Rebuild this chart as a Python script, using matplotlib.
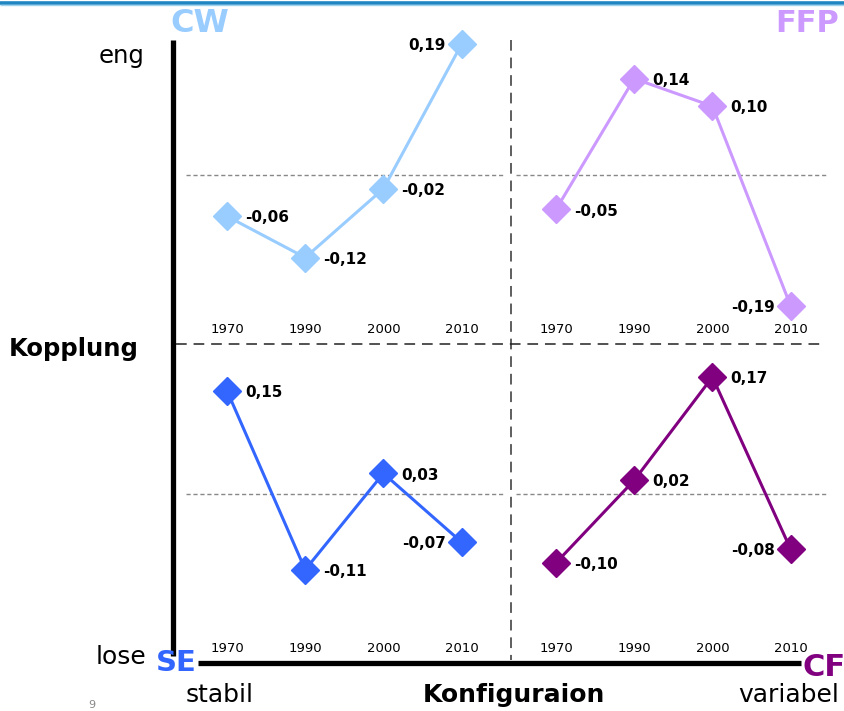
import matplotlib
matplotlib.use("Agg")
import matplotlib.pyplot as plt
from matplotlib.transforms import blended_transform_factory

# ---- data ----
years = ["1970", "1990", "2000", "2010"]
cw_vals = [-0.06, -0.12, -0.02, 0.19]
ffp_vals = [-0.05, 0.14, 0.10, -0.19]
se_vals = [0.15, -0.11, 0.03, -0.07]
cf_vals = [-0.10, 0.02, 0.17, -0.08]

panel_names = ["CW", "FFP", "SE", "CF"]
panel_colors = ["#99CCFF", "#CC99FF", "#3366FF", "#800080"]

W, H = 845, 711
fig = plt.figure(figsize=(W / 100, H / 100), dpi=100)
plt.rcParams['font.family'] = ['DejaVu Sans']

# overlay axes in pixel coordinates for the frame decoration
ov = fig.add_axes([0, 0, 1, 1])
ov.set_xlim(0, W)
ov.set_ylim(H, 0)
ov.axis("off")

def px_axes(x0, y0, x1, y1):
    ax = fig.add_axes([x0 / W, 1 - y1 / H, (x1 - x0) / W, (y1 - y0) / H])
    ax.patch.set_alpha(0)
    ax.axis("off")
    ax.set_ylim(-0.2456, 0.218)
    ax.set_xlim(-0.576, 3.632)
    return ax

# top decorative line
ov.plot([0, W], [2.5, 2.5], color="#1F86C2", lw=2.6, solid_capstyle="butt")
ov.plot([0, W], [5.2, 5.2], color="#9FD3EE", lw=1.0, solid_capstyle="butt")

# thick axes lines
ov.plot([173, 173], [40, 656], color="black", lw=3.8, solid_capstyle="butt")
ov.plot([198, 801], [663, 663], color="black", lw=3.8, solid_capstyle="butt")
# dashed cross
ov.plot([511, 511], [40, 660], color="#333333", lw=1.1, linestyle=(0, (7, 4.5)))
ov.plot([176, 822], [344, 344], color="#222222", lw=1.1, linestyle=(0, (7, 4.5)))

# texts
ov.text(200, 23, "CW", color="#99CCFF", fontsize=23, fontweight="bold", ha="center", va="center")
ov.text(839, 23, "FFP", color="#CC99FF", fontsize=22, fontweight="bold", ha="right", va="center")
ov.text(145, 56, "eng", fontsize=17.5, ha="right", va="center")
ov.text(9, 349, "Kopplung", fontsize=17.5, fontweight="bold", ha="left", va="center")
ov.text(146, 657, "lose", fontsize=18, ha="right", va="center")
ov.text(176, 663, "SE", color="#3366FF", fontsize=21, fontweight="bold", ha="center", va="center")
ov.text(803, 668, "CF", color="#800080", fontsize=22, fontweight="bold", ha="left", va="center")
ov.text(220, 695, "stabil", fontsize=18, ha="center", va="center")
ov.text(514, 695, "Konfiguraion", fontsize=18, fontweight="bold", ha="center", va="center")
ov.text(839, 695, "variabel", fontsize=18, ha="right", va="center")
ov.text(92, 705, "9", fontsize=8, color="#888888", ha="center", va="center")

panels = [
    (px_axes(182, 25, 511, 344), cw_vals, panel_colors[0]),
    (px_axes(511, 25, 840, 344), ffp_vals, panel_colors[1]),
    (px_axes(182, 344, 511, 663), se_vals, panel_colors[2]),
    (px_axes(511, 344, 840, 663), cf_vals, panel_colors[3]),
]

for k, (ax, vals, col) in enumerate(panels):
    xs = list(range(len(years)))
    if k % 2 == 0:
        ax.axhline(0, xmin=0.012, xmax=0.98, color="#888888", lw=1.0, linestyle=(0, (3, 2)))
    else:
        ax.axhline(0, xmin=0.015, xmax=0.963, color="#888888", lw=1.0, linestyle=(0, (3, 2)))
    ax.plot(xs, vals, color=col, lw=2.2, marker="D", markersize=14,
            markerfacecolor=col, markeredgecolor=col, zorder=3, clip_on=False)
    trans = blended_transform_factory(ax.transData, ax.transAxes)
    for i, y in enumerate(years):
        ax.text(i, 0.047, y, transform=trans, fontsize=9.5, ha="center", va="center")
    for i, v in enumerate(vals):
        lab = f"{v:.2f}".replace(".", ",")
        if i == len(vals) - 1:
            ax.annotate(lab, (i, v), xytext=(-11.5, -1.2), textcoords="offset points",
                        ha="right", va="center", fontsize=11, fontweight="bold", zorder=4)
        else:
            ax.annotate(lab, (i, v), xytext=(13, -1.2), textcoords="offset points",
                        ha="left", va="center", fontsize=11, fontweight="bold", zorder=4)

fig.savefig("out.png", dpi=100)
